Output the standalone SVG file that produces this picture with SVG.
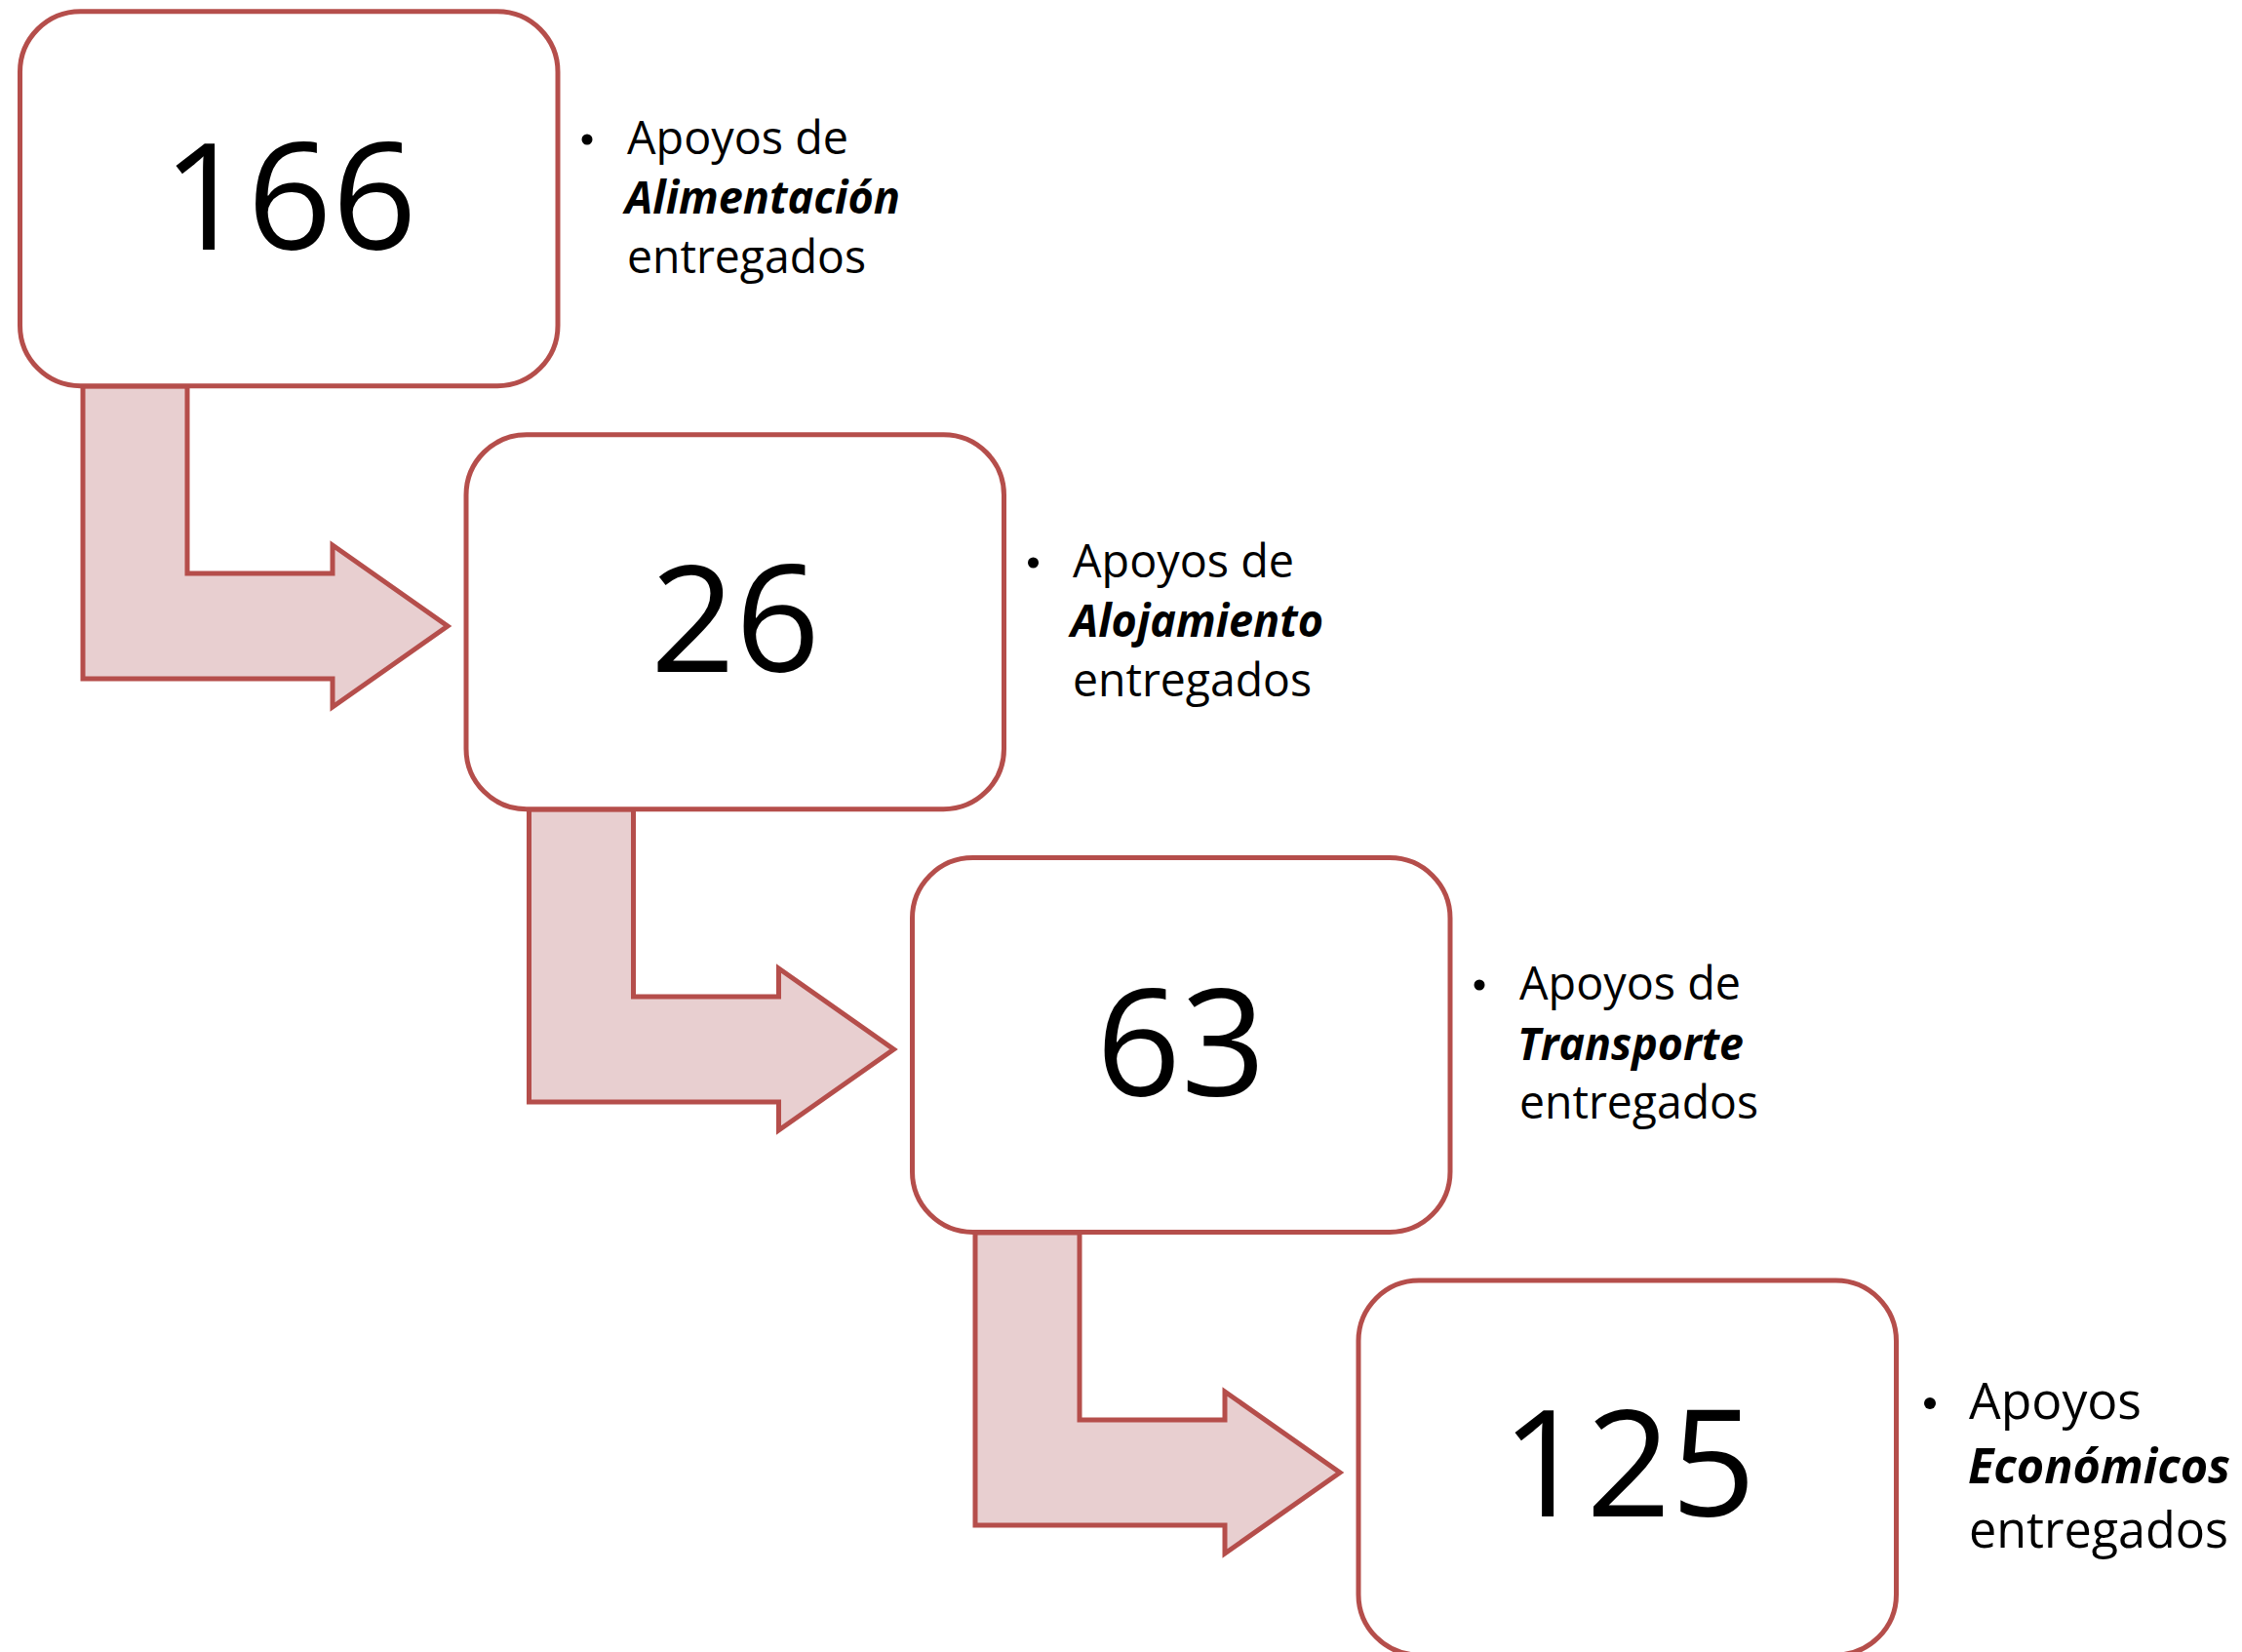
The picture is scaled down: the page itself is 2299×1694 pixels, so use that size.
<svg xmlns="http://www.w3.org/2000/svg" width="2299" height="1694" viewBox="0 0 2299 1694">
<style>
.box{fill:#FFFFFF;stroke:#B54E4B;stroke-width:5}
.arr{fill:#E8CFD0;stroke:#B54E4B;stroke-width:5;stroke-linejoin:miter}
.num{font-family:"Open Sans","Noto Sans",sans-serif;font-size:152px;fill:#000;text-anchor:middle}
.lbl{font-family:"Open Sans","Noto Sans",sans-serif;font-size:47px;fill:#000}
.lbl4{font-size:51px}
.bi{font-weight:bold;font-style:italic}
.dot{fill:#000}
</style>
<rect width="2299" height="1694" fill="#FFFFFF"/>
<g id="connectors">
<path class="arr" d="M85,396 H192 V588 H341 V559 L459,642 L341,725 V696 H85 Z"/>
<path class="arr" transform="translate(457.5,434)" d="M85,396 H192 V588 H341 V559 L459,642 L341,725 V696 H85 Z"/>
<path class="arr" transform="translate(915,868)" d="M85,396 H192 V588 H341 V559 L459,642 L341,725 V696 H85 Z"/>
</g>
<g id="node1">
<rect class="box" x="20.5" y="11.7" width="551.5" height="384" rx="62" ry="62"/>
<text class="num" x="297" y="256">166</text>
<circle class="dot" cx="602" cy="143" r="5.5"/>
<text class="lbl" x="643" y="158" textLength="227" lengthAdjust="spacingAndGlyphs">Apoyos de</text>
<text class="lbl bi" x="641" y="219" textLength="282" lengthAdjust="spacingAndGlyphs">Alimentación</text>
<text class="lbl" x="643" y="280" textLength="245" lengthAdjust="spacingAndGlyphs">entregados</text>
</g>
<g id="node2">
<rect class="box" x="478" y="445.7" width="551.5" height="384" rx="62" ry="62"/>
<text class="num" x="754" y="689">26</text>
<circle class="dot" cx="1059.5" cy="577" r="5.5"/>
<text class="lbl" x="1100" y="592" textLength="227" lengthAdjust="spacingAndGlyphs">Apoyos de</text>
<text class="lbl bi" x="1098" y="653" textLength="259" lengthAdjust="spacingAndGlyphs">Alojamiento</text>
<text class="lbl" x="1100" y="714" textLength="245" lengthAdjust="spacingAndGlyphs">entregados</text>
</g>
<g id="node3">
<rect class="box" x="935.5" y="879.5" width="551.5" height="384" rx="62" ry="62"/>
<text class="num" x="1211" y="1124">63</text>
<circle class="dot" cx="1517" cy="1010" r="5.5"/>
<text class="lbl" x="1558" y="1025" textLength="227" lengthAdjust="spacingAndGlyphs">Apoyos de</text>
<text class="lbl bi" x="1556" y="1087" textLength="232" lengthAdjust="spacingAndGlyphs">Transporte</text>
<text class="lbl" x="1558" y="1147" textLength="245" lengthAdjust="spacingAndGlyphs">entregados</text>
</g>
<g id="node4">
<rect class="box" x="1393" y="1313" width="551.5" height="384" rx="62" ry="62"/>
<text class="num" x="1670" y="1555">125</text>
<circle class="dot" cx="1979" cy="1439" r="6"/>
<text class="lbl lbl4" x="2019" y="1455" textLength="177" lengthAdjust="spacingAndGlyphs">Apoyos</text>
<text class="lbl lbl4 bi" x="2018" y="1521" textLength="269" lengthAdjust="spacingAndGlyphs">Económicos</text>
<text class="lbl lbl4" x="2019" y="1587" textLength="266" lengthAdjust="spacingAndGlyphs">entregados</text>
</g>
</svg>
